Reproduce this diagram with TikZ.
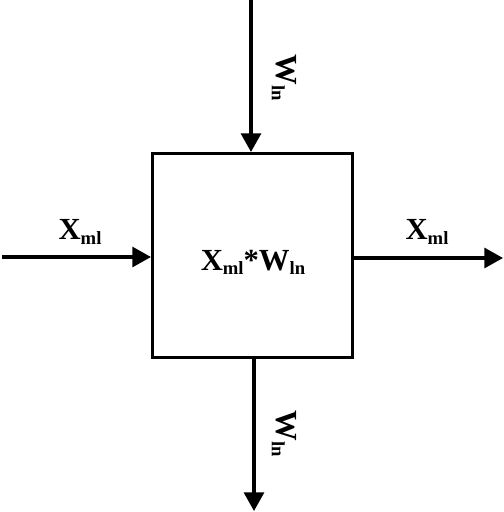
\documentclass[tikz,border=0pt]{standalone}
\usepackage{fontspec}
\setmainfont{Liberation Serif}
\usetikzlibrary{arrows.meta,positioning}
\newcommand{\lsub}[1]{\raisebox{-0.3ex}{\fontsize{14}{15}\selectfont #1}}

\begin{document}
\begin{tikzpicture}[
x=0.75pt, y=-0.75pt,
blk/.style={draw, line width=2.3pt, minimum width=150pt, minimum height=153pt, inner sep=0pt},
lbl/.style={font=\fontsize{23}{25}\selectfont\bfseries, inner sep=0pt},
arr/.style={-{Triangle[length=14pt,width=15pt]}, line width=2.3pt}
]
\useasboundingbox (0,0) rectangle (504,512);
\node[blk] (mult) at (252.5,255.5) {};
\node[lbl] (prod) at (253,262) {X\lsub{ml}*W\lsub{ln}};
\coordinate (win) at (251,0);
\coordinate (wout) at (254,511);
\coordinate (xin) at (2,257);
\coordinate (xout) at (503,258);
\draw[arr] (win) -- (win |- mult.north);
\draw[arr] (wout |- mult.south) -- (wout);
\draw[arr] (xin) -- (xin -| mult.west);
\draw[arr] (xout -| mult.east) -- (xout);
\node[lbl, rotate=-90] (wtop) at (284,78) {W\lsub{ln}};
\node[lbl, rotate=-90] (wbot) at (284,434) {W\lsub{ln}};
\node[lbl] (xleft) at (80,232) {X\lsub{ml}};
\node[lbl] (xright) at (427,232) {X\lsub{ml}};
\end{tikzpicture}
\end{document}
